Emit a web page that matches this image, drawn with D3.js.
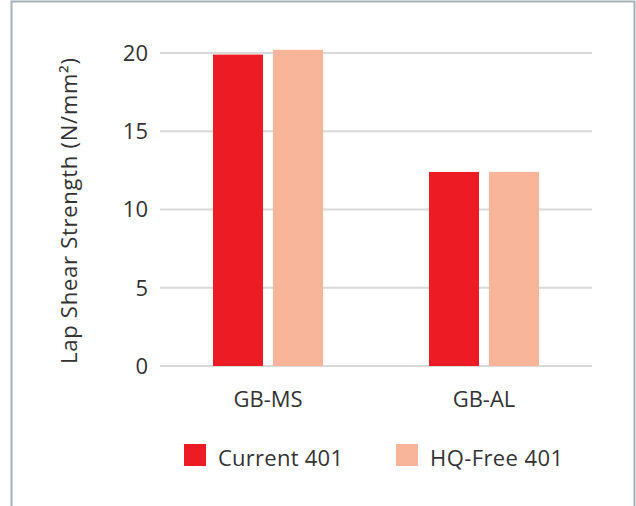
<!DOCTYPE html>
<html>
<head>
<meta charset="utf-8">
<script src="https://cdn.jsdelivr.net/npm/d3@7"></script>
<style>
  body { margin: 0; background: #fff; }
  text { font-family: "Open Sans", "Noto Sans", sans-serif; fill: #333; }
</style>
</head>
<body>
<div id="chart"></div>
<script>
// chart data
const categories = ["GB-MS", "GB-AL"]
const series = ["Current 401", "HQ-Free 401"]
const currentValues = [19.9, 12.4]
const hqFreeValues = [20.2, 12.4]
const yTicks = [0, 5, 10, 15, 20]
const colors = ["#ED1C24", "#F9B59A"]

const width = 636, height = 506
const svg = d3.select("#chart").append("svg")
    .attr("width", width)
    .attr("height", height)

// frame (top, left, right edges)
svg.append("path")
    .attr("d", `M11.5,${height} V1.5 H634.5 V${height}`)
    .attr("fill", "none")
    .attr("stroke", "#a4b1b9")
    .attr("stroke-width", 2)

const plot = {left: 160, right: 592, top: 53, bottom: 366}

// scales
const y = d3.scaleLinear()
    .domain([0, 20])
    .range([plot.bottom, plot.top])

const x0 = d3.scaleBand()
    .domain(categories)
    .range([plot.left, plot.right])
    .paddingInner(106 / 216)
    .paddingOuter(53 / 216)

const x1 = d3.scaleBand()
    .domain(series)
    .range([0, x0.bandwidth()])
    .paddingInner(1 / 6)

// gridlines
svg.append("g")
    .selectAll("line")
    .data(yTicks)
    .enter()
    .append("line")
    .attr("x1", plot.left)
    .attr("x2", plot.right)
    .attr("y1", d => y(d))
    .attr("y2", d => y(d))
    .attr("stroke", "#d9d9d9")
    .attr("stroke-width", 2)

// y tick labels
svg.append("g")
    .selectAll("text")
    .data(yTicks)
    .enter()
    .append("text")
    .attr("x", 148)
    .attr("y", d => y(d))
    .attr("dy", "0.36em")
    .attr("text-anchor", "end")
    .style("font-size", "22px")
    .text(d => d)

// y axis title
svg.append("text")
    .attr("transform", "translate(77, 211) rotate(-90)")
    .attr("text-anchor", "middle")
    .attr("textLength", 306)
    .attr("lengthAdjust", "spacing")
    .style("font-size", "22px")
    .text("Lap Shear Strength (N/mm²)")

// bars
const rows = categories.map((c, i) => ({
    category: c,
    values: [currentValues[i], hqFreeValues[i]]
}))

const groups = svg.selectAll(".bar-group")
    .data(rows)
    .enter()
    .append("g")
    .attr("class", "bar-group")
    .attr("transform", d => `translate(${x0(d.category)}, 0)`)

groups.selectAll("rect")
    .data(d => d.values.map((v, j) => ({series: series[j], value: v, color: colors[j]})))
    .enter()
    .append("rect")
    .attr("x", d => x1(d.series))
    .attr("y", d => y(d.value))
    .attr("width", x1.bandwidth())
    .attr("height", d => y(0) - y(d.value))
    .attr("fill", d => d.color)

// category labels
svg.append("g")
    .selectAll("text")
    .data(categories)
    .enter()
    .append("text")
    .attr("x", d => x0(d) + x0.bandwidth() / 2)
    .attr("y", 407)
    .attr("text-anchor", "middle")
    .style("font-size", "22px")
    .text(d => d)

// legend
const legendX = [184, 396]
const legendWidths = [125, 133]
const legend = svg.selectAll(".legend-item")
    .data(series)
    .enter()
    .append("g")
    .attr("class", "legend-item")
    .attr("transform", (d, i) => `translate(${legendX[i]}, 444)`)

legend.append("rect")
    .attr("width", 22)
    .attr("height", 22)
    .attr("fill", (d, i) => colors[i])

legend.append("text")
    .attr("x", 34)
    .attr("y", 22)
    .attr("textLength", (d, i) => legendWidths[i])
    .attr("lengthAdjust", "spacing")
    .style("font-size", "22px")
    .text(d => d)
</script>
</body>
</html>
